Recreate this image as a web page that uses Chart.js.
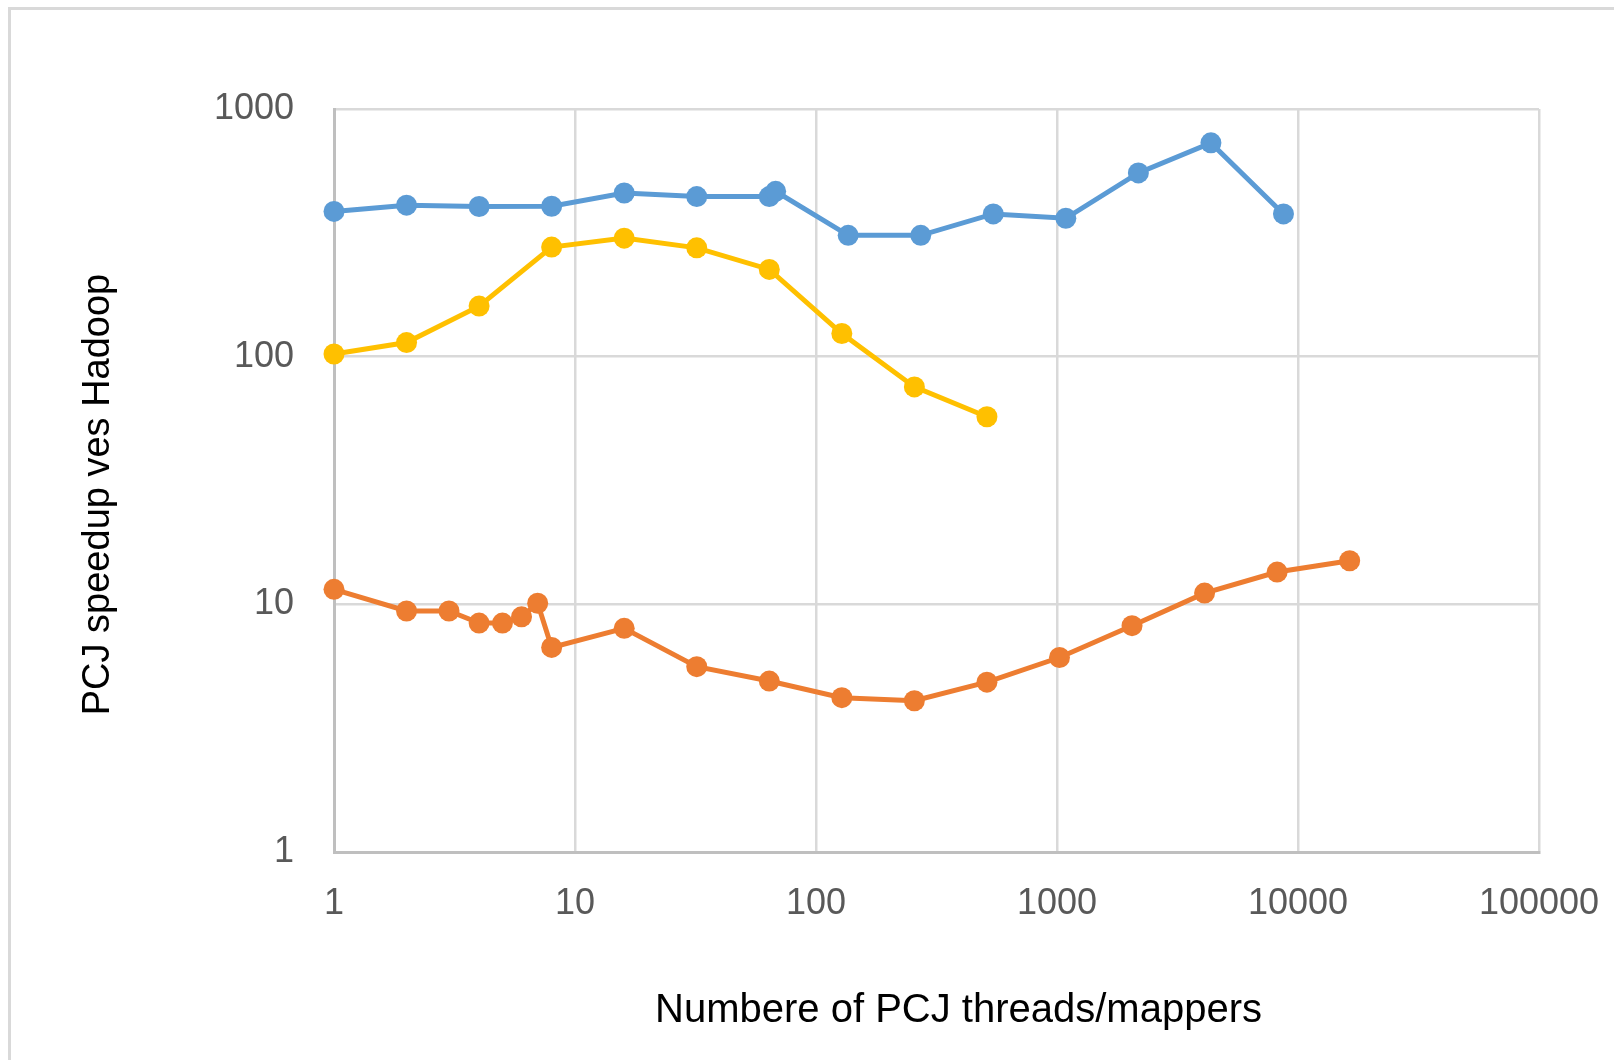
<!DOCTYPE html>
<html>
<head>
<meta charset="utf-8">
<title>PCJ speedup vs Hadoop</title>
<script src="https://cdn.jsdelivr.net/npm/chart.js@4.4.1/dist/chart.umd.min.js"></script>
<style>
  html, body { margin: 0; padding: 0; background: #fff; overflow: hidden; }
  #wrap { position: relative; width: 1614px; height: 1060px; overflow: hidden; }
  #frame { position: absolute; left: 8px; top: 7px; width: 1700px; height: 1200px; border: 3px solid #d9d9d9; }
  #chart { position: absolute; left: 0; top: 0; }
</style>
</head>
<body>
<div id="wrap">
  <div id="frame"></div>
  <canvas id="chart" width="1614" height="1060"></canvas>
</div>
<script>
// tick values on both log axes
const xTicks = [1, 10, 100, 1000, 10000, 100000];
const yTicks = [1, 10, 100, 1000];

const xTitle = 'Numbere of PCJ threads/mappers';
const yTitle = 'PCJ speedup ves Hadoop';

// blue series
const blueX = [1, 2, 4, 8, 16, 32, 64, 68, 136, 272, 544, 1088, 2176, 4352, 8704];
const blueY = [386, 409, 404, 405, 458, 443, 443, 465, 309, 309, 377, 362, 552, 730, 377];

// orange series
const orangeX = [1, 2, 3, 4, 5, 6, 7, 8, 16, 32, 64, 128, 256, 512, 1024, 2048, 4096, 8192, 16384];
const orangeY = [11.5, 9.4, 9.4, 8.4, 8.4, 8.9, 10.1, 6.7, 8.0, 5.6, 4.9, 4.2, 4.08, 4.85, 6.1, 8.2, 11.1, 13.5, 15.0];

// yellow series
const yellowX = [1, 2, 4, 8, 16, 32, 64, 128, 256, 512];
const yellowY = [102.5, 114, 160, 277, 301, 275, 225, 124, 75.5, 57.2];

function pairs(xs, ys) {
    return xs.map((x, i) => ({ x: x, y: ys[i] }));
}

function series(label, xs, ys, color) {
    return {
        label: label,
        data: pairs(xs, ys),
        showLine: true,
        borderColor: color,
        backgroundColor: color,
        borderWidth: 5,
        pointRadius: 10.5,
        pointHoverRadius: 10.5,
        pointBorderWidth: 0,
        pointBackgroundColor: color,
        clip: false
    };
}

const tickFont = { family: '"Liberation Sans", Arial, sans-serif', size: 36 };

// grid line at value 1 sits under the axis line, keep it hidden
function gridColor(ctx) {
    return ctx.tick && ctx.tick.value === 1 ? 'rgba(0,0,0,0)' : '#d9d9d9';
}

// axis titles placed like the original, a bit off the plot centre
const axisTitles = {
    id: 'axisTitles',
    afterDraw(chart) {
        const { ctx, chartArea: a } = chart;
        ctx.save();
        ctx.fillStyle = '#000';
        ctx.textAlign = 'center';
        ctx.textBaseline = 'alphabetic';
        ctx.font = '40px "Liberation Sans", Arial, sans-serif';
        ctx.fillText(xTitle, (a.left + a.right) / 2 + 22, a.bottom + 170);
        ctx.translate(a.left - 225, (a.top + a.bottom) / 2 + 14);
        ctx.rotate(-Math.PI / 2);
        ctx.font = '38px "Liberation Sans", Arial, sans-serif';
        ctx.fillText(yTitle, 0, 0);
        ctx.restore();
    }
};

new Chart(document.getElementById('chart'), {
    type: 'scatter',
    data: {
        datasets: [
            series('Series 1', blueX, blueY, '#5b9bd5'),
            series('Series 2', orangeX, orangeY, '#ed7d31'),
            series('Series 3', yellowX, yellowY, '#ffc000')
        ]
    },
    options: {
        responsive: false,
        animation: false,
        devicePixelRatio: 1,
        layout: { padding: { top: 109, right: 75, bottom: 0, left: 0 } },
        plugins: {
            legend: { display: false },
            tooltip: { enabled: false }
        },
        scales: {
            x: {
                type: 'logarithmic',
                min: 1,
                max: 100000,
                afterBuildTicks: function(scale) {
                    scale.ticks = xTicks.map(v => ({ value: v }));
                },
                afterFit: function(scale) {
                    scale.height = 208;
                    scale.paddingLeft = 0;
                    scale.paddingRight = 0;
                },
                ticks: {
                    callback: function(value) { return String(value); },
                    font: tickFont,
                    color: '#595959',
                    padding: 30,
                    maxRotation: 0,
                    autoSkip: false
                },
                grid: { color: gridColor, lineWidth: 2.5, drawTicks: false },
                border: { color: '#bfbfbf', width: 3 }
            },
            y: {
                type: 'logarithmic',
                min: 1,
                max: 1000,
                afterBuildTicks: function(scale) {
                    scale.ticks = yTicks.map(v => ({ value: v }));
                },
                afterFit: function(scale) {
                    scale.width = 334;
                    scale.paddingTop = 0;
                    scale.paddingBottom = 0;
                },
                ticks: {
                    callback: function(value) { return String(value); },
                    font: tickFont,
                    color: '#595959',
                    padding: 40,
                    autoSkip: false
                },
                grid: { color: gridColor, lineWidth: 2.5, drawTicks: false },
                border: { color: '#bfbfbf', width: 3 }
            }
        }
    },
    plugins: [axisTitles]
});
</script>
</body>
</html>
